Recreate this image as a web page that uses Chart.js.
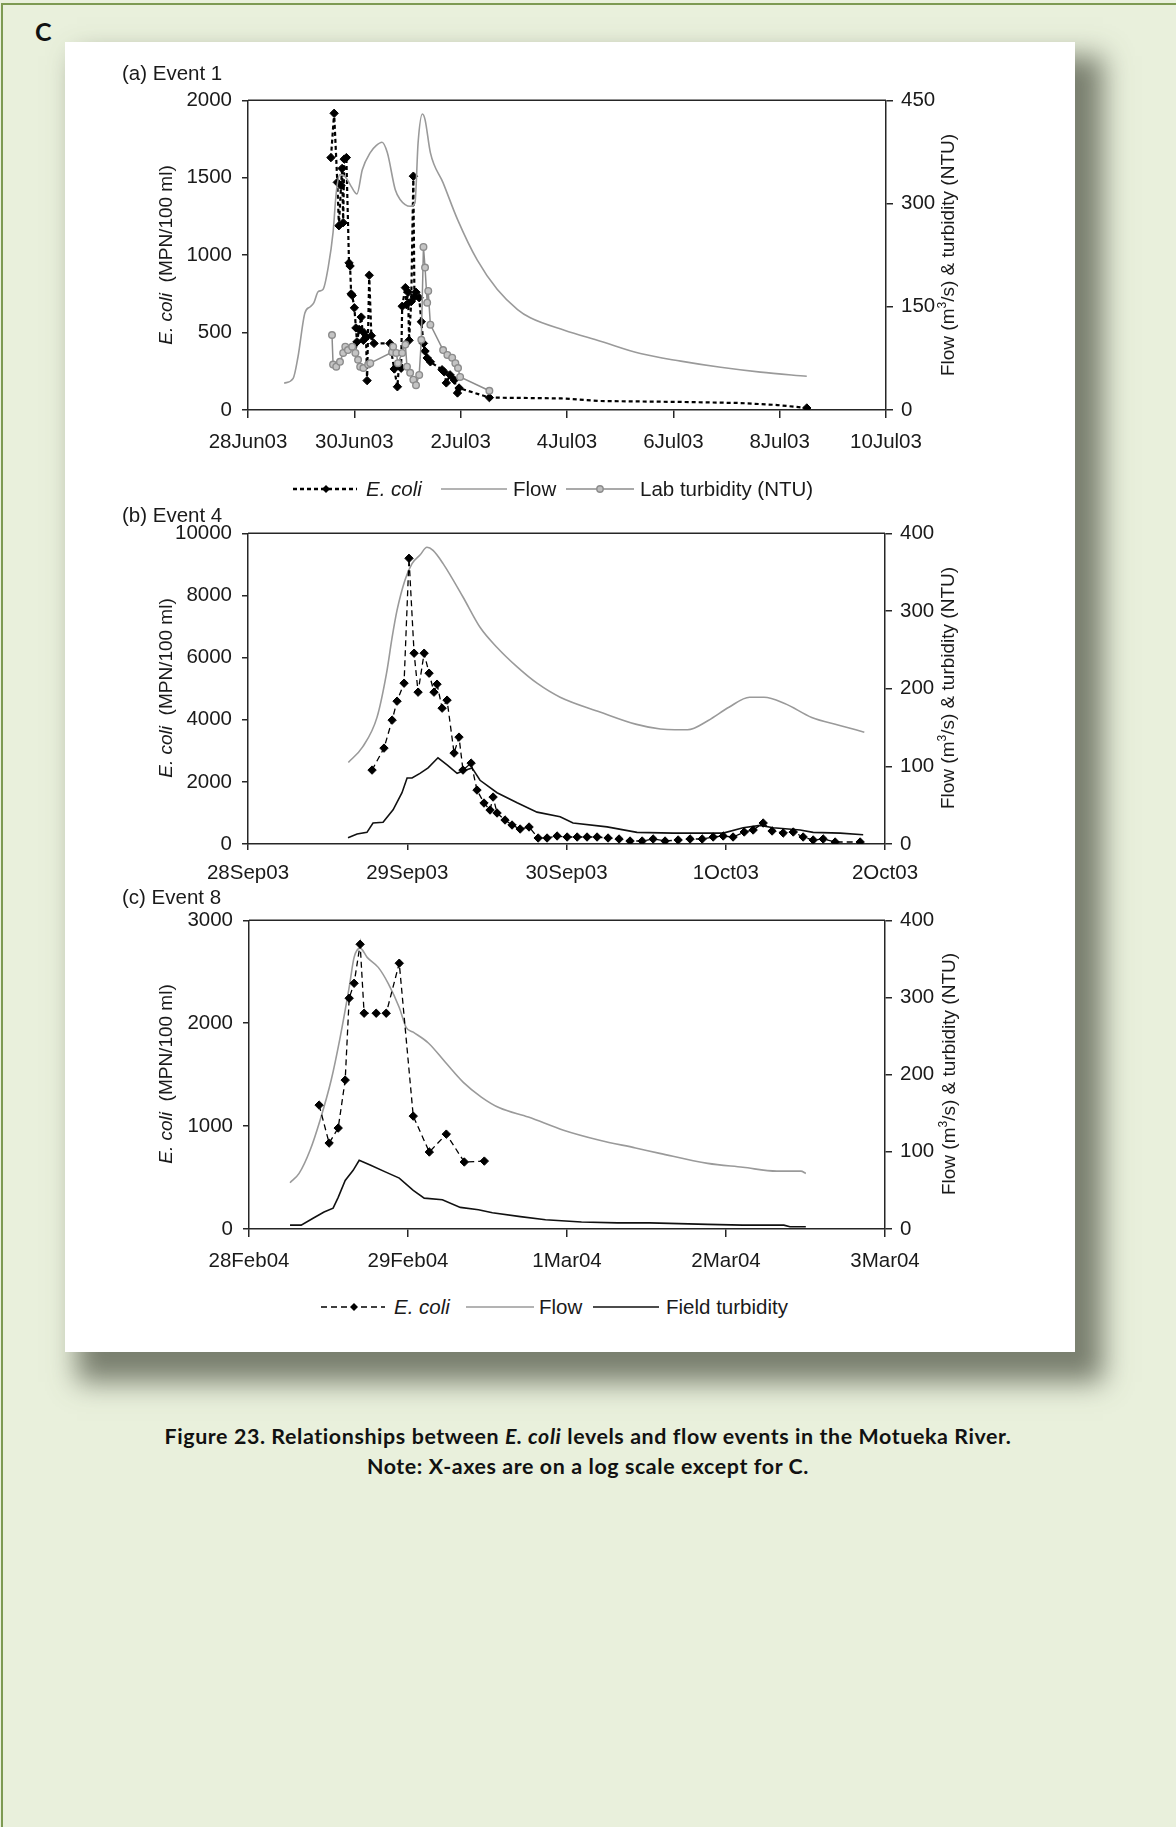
<!DOCTYPE html>
<html>
<head>
<meta charset="utf-8">
<script src="https://cdn.jsdelivr.net/npm/chart.js@4.4.1/dist/chart.umd.min.js"></script>
<style>
  html,body{margin:0;padding:0}
  body{width:1176px;height:1827px;overflow:hidden;position:relative;background:#e9f0dc;font-family:"Liberation Sans",Arial,sans-serif;color:#1a1a1a}
  .frame{position:absolute;left:1px;top:3px;width:1300px;height:1900px;border-left:2px solid #7d9a52;border-top:2px solid #7d9a52}
  .panel{position:absolute;left:65px;top:42px;width:1010px;height:1310px;background:#fff;box-shadow:20px 22px 26px 8px rgba(90,95,80,0.78)}
  .clabel{position:absolute;left:35px;top:16px;font-family:Lato,"Open Sans",sans-serif;font-weight:700;font-size:25px;color:#111}
  canvas{position:absolute}
  .t{position:absolute;white-space:nowrap;font-size:20.5px;line-height:22px}
  .rot{position:absolute;white-space:nowrap;font-size:19px;line-height:20px;transform:translate(-50%,-50%) rotate(-90deg)}
  .leg{position:absolute;white-space:nowrap;font-size:20.5px;line-height:22px}
  svg{position:absolute}
  .caption{position:absolute;left:0;top:1421px;width:1176px;text-align:center;font-family:Lato,"Open Sans",sans-serif;font-weight:700;font-size:21.4px;letter-spacing:0.6px;line-height:30px;color:#111}
</style>
</head>
<body>
<div class="frame"></div>
<div class="clabel">C</div>
<div class="panel"></div>

<canvas id="ca" width="788" height="379" style="left:168px;top:81px"></canvas>
<canvas id="cb" width="787" height="381" style="left:168px;top:513px"></canvas>
<canvas id="cc" width="786" height="379" style="left:169px;top:900px"></canvas>

<!-- panel titles -->
<div class="t" style="left:122px;top:62px">(a) Event 1</div>
<div class="t" style="left:122px;top:504px">(b) Event 4</div>
<div class="t" style="left:122px;top:886px">(c) Event 8</div>

<!-- axis titles -->
<div class="rot" style="left:166px;top:255px"><i>E. coli</i>&nbsp; (MPN/100 ml)</div>
<div class="rot" style="left:166px;top:688px"><i>E. coli</i>&nbsp; (MPN/100 ml)</div>
<div class="rot" style="left:166px;top:1074px"><i>E. coli</i>&nbsp; (MPN/100 ml)</div>
<div class="rot" style="left:945px;top:255px">Flow (m<sup style="font-size:12px">3</sup>/s) &amp; turbidity (NTU)</div>
<div class="rot" style="left:945px;top:688px">Flow (m<sup style="font-size:12px">3</sup>/s) &amp; turbidity (NTU)</div>
<div class="rot" style="left:946px;top:1074px">Flow (m<sup style="font-size:12px">3</sup>/s) &amp; turbidity (NTU)</div>

<!-- legend (a) -->
<svg style="left:293px;top:482px" width="64" height="14"><line x1="0" y1="7" x2="64" y2="7" stroke="#000" stroke-width="2.4" stroke-dasharray="4 3"/><polygon points="33,3 37,7 33,11 29,7" fill="#000"/></svg>
<div class="leg" style="left:366px;top:478px"><i>E. coli</i></div>
<svg style="left:441px;top:482px" width="66" height="14"><line x1="0" y1="7" x2="66" y2="7" stroke="#9a9a9a" stroke-width="1.6"/></svg>
<div class="leg" style="left:513px;top:478px">Flow</div>
<svg style="left:566px;top:482px" width="68" height="14"><line x1="0" y1="7" x2="68" y2="7" stroke="#8c8c8c" stroke-width="1.6"/><circle cx="34" cy="7" r="3.2" fill="#bdbdbd" stroke="#8c8c8c" stroke-width="1.4"/></svg>
<div class="leg" style="left:640px;top:478px">Lab turbidity (NTU)</div>

<!-- legend (c) -->
<svg style="left:321px;top:1300px" width="64" height="14"><line x1="0" y1="7" x2="64" y2="7" stroke="#000" stroke-width="1.3" stroke-dasharray="6 4"/><polygon points="33,3 37,7 33,11 29,7" fill="#000"/></svg>
<div class="leg" style="left:394px;top:1296px"><i>E. coli</i></div>
<svg style="left:466px;top:1300px" width="68" height="14"><line x1="0" y1="7" x2="68" y2="7" stroke="#9a9a9a" stroke-width="1.6"/></svg>
<div class="leg" style="left:539px;top:1296px">Flow</div>
<svg style="left:593px;top:1300px" width="66" height="14"><line x1="0" y1="7" x2="66" y2="7" stroke="#111" stroke-width="1.6"/></svg>
<div class="leg" style="left:666px;top:1296px">Field turbidity</div>

<div class="caption">Figure 23. Relationships between <i>E. coli</i> levels and flow events in the Motueka River.<br>Note: X-axes are on a log scale except for C.</div>

<script>
// ---------------- DATA ----------------
// (a) Event 1 : x = days after 28Jun03 00:00
const A_xTicks = ['28Jun03','30Jun03','2Jul03','4Jul03','6Jul03','8Jul03','10Jul03'];
const A_flow_t = [0.68,0.85,0.94,1.07,1.17,1.24,1.32,1.41,1.51,1.60,1.66,1.73,1.83,1.94,2.05,2.15,2.30,2.41,2.52,2.62,2.77,2.86,3.05,3.14,3.20,3.28,3.33,3.43,3.67,3.94,4.31,4.69,5.07,5.31,5.95,6.63,7.38,8.14,8.89,9.64,10.51];
const A_flow_v = [39,46,77,141,150,156,172,175,208,258,316,342,339,325,314,349,374,384,389,374,320,306,296,301,389,430,422,374,330,277,218,175,146,134,116,100,82,71,62,55,49];
const A_ecoli_t = [1.56,1.62,1.68,1.71,1.75,1.77,1.79,1.81,1.85,1.90,1.92,1.94,1.96,2.00,2.03,2.05,2.09,2.13,2.17,2.18,2.22,2.24,2.28,2.32,2.37,2.67,2.75,2.81,2.84,2.88,2.90,2.96,2.98,3.01,3.03,3.07,3.11,3.13,3.16,3.22,3.26,3.30,3.33,3.37,3.43,3.65,3.69,3.73,3.80,3.88,3.94,3.97,4.54,5.12,5.89,6.63,8.14,9.27,9.96,10.51];
const A_ecoli_v = [1630,1916,1470,1190,1450,1560,1210,1620,1630,950,930,750,740,660,530,440,520,600,450,500,470,190,870,480,430,430,265,150,290,270,670,790,680,760,450,700,1510,730,760,725,570,430,380,336,311,260,246,175,227,194,110,142,80,78,75,58,52,45,32,13];
const A_lab_t = [1.58,1.60,1.66,1.73,1.79,1.83,1.88,1.96,2.02,2.07,2.11,2.17,2.26,2.30,2.71,2.73,2.79,2.82,2.90,2.96,2.99,3.05,3.11,3.16,3.22,3.26,3.30,3.33,3.37,3.39,3.43,3.67,3.75,3.84,3.90,3.95,3.99,4.54];
const A_lab_v = [109,66,63,70,83,92,87,92,83,73,63,61,66,68,84,92,83,68,83,95,63,54,44,36,51,102,237,207,156,173,124,87,80,76,68,61,48,28];

// (b) Event 4 : x = days after 28Sep03 00:00
const B_xTicks = ['28Sep03','29Sep03','30Sep03','1Oct03','2Oct03'];
const B_flow_t = [0.63,0.72,0.81,0.87,0.905,0.936,0.986,1.03,1.08,1.124,1.162,1.225,1.35,1.457,1.564,1.69,1.815,1.96,2.21,2.44,2.59,2.68,2.76,2.89,3.02,3.15,3.24,3.37,3.54,3.71,3.87];
const B_flow_v = [105,125,163,220,266,301,340,361,372,382,378,361,318,279,253,228,207,189,170,154,148,147,147,159,176,189,189,181,163,153,144];
const B_field_t = [0.628,0.685,0.747,0.785,0.848,0.911,0.967,0.999,1.03,1.08,1.131,1.193,1.25,1.313,1.35,1.407,1.457,1.564,1.69,1.815,1.96,2.041,2.255,2.443,2.67,2.984,3.109,3.216,3.298,3.467,3.549,3.719,3.863];
const B_field_v = [8,13,15,27,28,44,66,85,85,91,98,111,102,91,94,98,82,66,53,41,35,27,22,15,14,14,21,24,21,18,15,14,12];
const B_ecoli_t = [0.779,0.854,0.905,0.936,0.980,1.011,1.043,1.068,1.106,1.137,1.168,1.187,1.219,1.250,1.294,1.325,1.350,1.401,1.438,1.482,1.520,1.539,1.564,1.614,1.658,1.709,1.765,1.822,1.878,1.941,2.004,2.067,2.129,2.192,2.261,2.330,2.399,2.475,2.544,2.619,2.701,2.776,2.852,2.921,2.984,3.046,3.116,3.172,3.235,3.291,3.361,3.424,3.486,3.549,3.612,3.687,3.844];
const B_ecoli_v = [2379,3086,3987,4597,5176,9195,6141,4887,6141,5498,4887,5144,4372,4630,2926,3440,2379,2604,1736,1318,1093,1511,997,772,611,482,547,193,193,257,225,225,225,225,193,161,96,96,161,96,129,161,161,225,257,225,386,450,675,418,354,386,225,129,161,64,64];

// (c) Event 8 : x = days after 28Feb04 00:00
const C_xTicks = ['28Feb04','29Feb04','1Mar04','2Mar04','3Mar04'];
const C_flow_t = [0.258,0.315,0.384,0.447,0.517,0.573,0.630,0.661,0.699,0.743,0.813,0.876,0.945,0.989,1.033,1.128,1.235,1.348,1.461,1.575,1.757,1.978,2.205,2.431,2.583,2.885,3.106,3.320,3.471,3.502];
const C_flow_v = [60,72,102,141,193,248,313,352,364,352,339,318,287,261,255,241,216,190,171,157,145,128,115,105,98,85,80,75,75,72];
const C_field_t = [0.258,0.328,0.403,0.472,0.529,0.561,0.605,0.655,0.693,0.762,0.857,0.945,1.033,1.102,1.216,1.329,1.443,1.531,1.707,1.865,2.091,2.318,2.520,2.885,3.106,3.364,3.402,3.502];
const C_field_v = [5,5,14,22,27,41,63,76,89,83,74,66,50,40,38,28,25,21,16,12,9,8,8,6,5,5,3,3];
const C_ecoli_t = [0.441,0.504,0.561,0.605,0.630,0.661,0.699,0.724,0.800,0.863,0.945,1.033,1.134,1.241,1.354,1.480];
const C_ecoli_v = [1204,835,981,1447,2243,2388,2767,2097,2097,2097,2583,1097,748,922,651,660];

// ---------------- HELPERS ----------------
const pts = (t, v) => t.map((x, i) => ({x: x, y: v[i]}));
const INK = '#262626';
const FONT = {family: '"Liberation Sans", Arial, sans-serif', size: 20.5};

const topLine = {
  id: 'topLine',
  afterDraw(chart) {
    const a = chart.chartArea, ctx = chart.ctx;
    ctx.save();
    ctx.strokeStyle = INK; ctx.lineWidth = 1.5;
    ctx.beginPath(); ctx.moveTo(a.left, a.top); ctx.lineTo(a.right, a.top); ctx.stroke();
    ctx.restore();
  }
};

function config(o) {
  const W_L = 80, W_R = 70, H_X = 50;
  return {
    type: 'line',
    data: {datasets: o.datasets()},
    plugins: [topLine],
    options: {
      responsive: false, maintainAspectRatio: false, animation: false, devicePixelRatio: 1,
      layout: {padding: {top: 20, left: 0, right: 0, bottom: 0}},
      plugins: {legend: {display: false}, tooltip: {enabled: false}},
      elements: {line: {tension: 0}},
      scales: {
        x: {
          type: 'linear', position: 'bottom', min: 0, max: o.xMax,
          afterFit: s => { s.height = H_X; },
          border: {color: INK, width: 1.5},
          grid: {drawOnChartArea: false, drawTicks: true, tickLength: o.xTick, color: INK, lineWidth: 1.5},
          ticks: {stepSize: o.xStep, autoSkip: false, maxRotation: 0, padding: o.xPad, color: '#1a1a1a', font: FONT,
                  callback: v => o.xLabels[Math.round(v / o.xStep)]}
        },
        y: {
          type: 'linear', position: 'left', min: 0, max: o.yMax,
          afterFit: s => { s.width = W_L; },
          border: {color: INK, width: 1.5},
          grid: {drawOnChartArea: false, drawTicks: true, tickLength: 6, color: INK, lineWidth: 1.5},
          ticks: {stepSize: o.yStep, padding: 10, color: '#1a1a1a', font: FONT, callback: v => String(v)}
        },
        y1: {
          type: 'linear', position: 'right', min: 0, max: o.y1Max,
          afterFit: s => { s.width = W_R; },
          border: {color: INK, width: 1.5},
          grid: {drawOnChartArea: false, drawTicks: true, tickLength: 7, color: INK, lineWidth: 1.5},
          ticks: {stepSize: o.y1Step, padding: 8, color: '#1a1a1a', font: FONT, callback: v => String(v)}
        }
      }
    }
  };
}

// build a chart, then size/position its canvas so that the plot area lands on the target box
function build(id, area, o) {
  const cv = document.getElementById(id);
  let ch = new Chart(cv, config(o));
  const ca = ch.chartArea;
  const w = Math.round(cv.width + (area.right - area.left) - (ca.right - ca.left));
  const h = Math.round(cv.height + (area.bottom - area.top) - (ca.bottom - ca.top));
  ch.destroy();
  cv.width = w; cv.height = h;
  cv.style.width = w + 'px'; cv.style.height = h + 'px';
  ch = new Chart(cv, config(o));
  const cb = ch.chartArea;
  cv.style.left = (area.left - cb.left) + 'px';
  cv.style.top = (area.top - cb.top) + 'px';
  return ch;
}

const flowStyle = {borderColor: '#9a9a9a', borderWidth: 1.6, pointRadius: 0, yAxisID: 'y1', order: 2, cubicInterpolationMode: 'monotone'};
const fieldStyle = {borderColor: '#111', borderWidth: 1.6, pointRadius: 0, yAxisID: 'y1', order: 1};
const ecoliThin = {borderColor: '#000', borderWidth: 1.3, borderDash: [6, 4], pointStyle: 'rectRot', pointRadius: 4.2,
                   pointBackgroundColor: '#000', pointBorderColor: '#000', pointBorderWidth: 1, yAxisID: 'y', order: 0};

// (a)
build('ca', {left: 248, right: 886, top: 100, bottom: 410}, {
  xMax: 12, xStep: 2, xLabels: A_xTicks, xTick: 8, xPad: 12,
  yMax: 2000, yStep: 500, y1Max: 450, y1Step: 150,
  datasets: () => [
    {label: 'Lab turbidity (NTU)', data: pts(A_lab_t, A_lab_v), borderColor: '#8c8c8c', borderWidth: 1.5,
      pointStyle: 'circle', pointRadius: 3.3, pointBackgroundColor: '#c4c4c4', pointBorderColor: '#8c8c8c', pointBorderWidth: 1.4,
      yAxisID: 'y1', order: 0},
    Object.assign({}, flowStyle, {label: 'Flow', data: pts(A_flow_t, A_flow_v), order: 1}),
    {label: 'E. coli', data: pts(A_ecoli_t, A_ecoli_v), borderColor: '#000', borderWidth: 2.2, borderDash: [4, 3],
      pointStyle: 'rectRot', pointBackgroundColor: '#000', pointBorderColor: '#000', pointBorderWidth: 1,
      pointRadius: c => (c.raw && c.raw.x > 4.6 && c.raw.x < 10.4) ? 0 : 4.2, yAxisID: 'y', order: 2}
  ]
});

// (b)
build('cb', {left: 248, right: 885, top: 533, bottom: 844}, {
  xMax: 4, xStep: 1, xLabels: B_xTicks, xTick: 6, xPad: 11,
  yMax: 10000, yStep: 2000, y1Max: 400, y1Step: 100,
  datasets: () => [
    Object.assign({}, ecoliThin, {label: 'E. coli', data: pts(B_ecoli_t, B_ecoli_v)}),
    Object.assign({}, fieldStyle, {label: 'Field turbidity', data: pts(B_field_t, B_field_v)}),
    Object.assign({}, flowStyle, {label: 'Flow', data: pts(B_flow_t, B_flow_v)})
  ]
});

// (c)
build('cc', {left: 249, right: 885, top: 920, bottom: 1229}, {
  xMax: 4, xStep: 1, xLabels: C_xTicks, xTick: 8, xPad: 12,
  yMax: 3000, yStep: 1000, y1Max: 400, y1Step: 100,
  datasets: () => [
    Object.assign({}, ecoliThin, {label: 'E. coli', data: pts(C_ecoli_t, C_ecoli_v)}),
    Object.assign({}, fieldStyle, {label: 'Field turbidity', data: pts(C_field_t, C_field_v)}),
    Object.assign({}, flowStyle, {label: 'Flow', data: pts(C_flow_t, C_flow_v)})
  ]
});
</script>
</body>
</html>
